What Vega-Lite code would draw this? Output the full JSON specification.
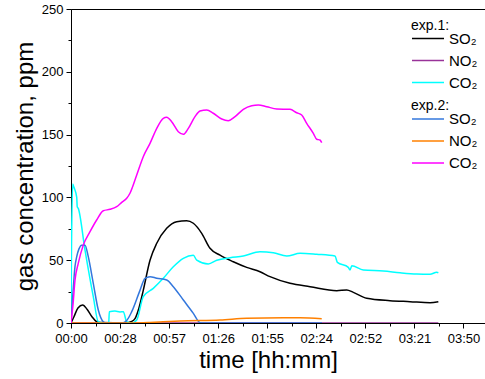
{
  "$schema": "https://vega.github.io/schema/vega-lite/v6.json",
  "width": 416,
  "height": 314,
  "autosize": {"type": "none"},
  "padding": {"left": 71, "top": 9, "right": 0, "bottom": 56},
  "background": "white",
  "config": {
    "font": "Liberation Sans",
    "view": {"stroke": "black", "strokeWidth": 1},
    "axis": {"grid": false, "domainColor": "black", "tickColor": "black", "labelColor": "black", "titleColor": "black", "labelFont": "Liberation Sans", "titleFont": "Liberation Sans", "titleFontWeight": "normal", "labelFontSize": 13, "titleFontSize": 24},
    "legend": {"titleFontSize": 14, "labelFontSize": 15, "titleFontWeight": "normal", "titleColor": "black", "labelColor": "black", "symbolType": "M-1,0H3", "symbolSize": 256, "symbolStrokeWidth": 1.5, "labelOffset": 20, "titlePadding": -3, "rowPadding": 5}
  },
  "datasets": {
    "exp1": [
      {"gas": "SO₂", "t": 0, "v": 0}, {"gas": "SO₂", "t": 0.029, "v": 5}, {"gas": "SO₂", "t": 0.068, "v": 12}, {"gas": "SO₂", "t": 0.114, "v": 14.3}, {"gas": "SO₂", "t": 0.157, "v": 11}, {"gas": "SO₂", "t": 0.205, "v": 5}, {"gas": "SO₂", "t": 0.251, "v": 1}, {"gas": "SO₂", "t": 0.284, "v": 0.3}, {"gas": "SO₂", "t": 0.545, "v": 0}, {"gas": "SO₂", "t": 0.587, "v": 1}, {"gas": "SO₂", "t": 0.626, "v": 3.5}, {"gas": "SO₂", "t": 0.665, "v": 12}, {"gas": "SO₂", "t": 0.707, "v": 26}, {"gas": "SO₂", "t": 0.773, "v": 50}, {"gas": "SO₂", "t": 0.839, "v": 63.5}, {"gas": "SO₂", "t": 0.936, "v": 75.4}, {"gas": "SO₂", "t": 1.034, "v": 80.7}, {"gas": "SO₂", "t": 1.132, "v": 81.5}, {"gas": "SO₂", "t": 1.197, "v": 79.4}, {"gas": "SO₂", "t": 1.279, "v": 71.4}, {"gas": "SO₂", "t": 1.36, "v": 59.5}, {"gas": "SO₂", "t": 1.458, "v": 54}, {"gas": "SO₂", "t": 1.588, "v": 48.8}, {"gas": "SO₂", "t": 1.719, "v": 44.3}, {"gas": "SO₂", "t": 1.849, "v": 40.8}, {"gas": "SO₂", "t": 1.947, "v": 36.9}, {"gas": "SO₂", "t": 2.143, "v": 31.6}, {"gas": "SO₂", "t": 2.339, "v": 28.9}, {"gas": "SO₂", "t": 2.6, "v": 25.7}, {"gas": "SO₂", "t": 2.698, "v": 26.3}, {"gas": "SO₂", "t": 2.762, "v": 24.4}, {"gas": "SO₂", "t": 2.893, "v": 19.7}, {"gas": "SO₂", "t": 3.121, "v": 17.8}, {"gas": "SO₂", "t": 3.317, "v": 17}, {"gas": "SO₂", "t": 3.513, "v": 16.2}, {"gas": "SO₂", "t": 3.594, "v": 17},
      {"gas": "NO₂", "t": 0, "v": 0}, {"gas": "NO₂", "t": 1.8, "v": 0}, {"gas": "NO₂", "t": 3.594, "v": 0},
      {"gas": "CO₂", "t": 0, "v": 0}, {"gas": "CO₂", "t": 0.005, "v": 60}, {"gas": "CO₂", "t": 0.017, "v": 110.7}, {"gas": "CO₂", "t": 0.029, "v": 108}, {"gas": "CO₂", "t": 0.056, "v": 100}, {"gas": "CO₂", "t": 0.061, "v": 92.6}, {"gas": "CO₂", "t": 0.071, "v": 91.3}, {"gas": "CO₂", "t": 0.137, "v": 58}, {"gas": "CO₂", "t": 0.218, "v": 21}, {"gas": "CO₂", "t": 0.267, "v": 1}, {"gas": "CO₂", "t": 0.313, "v": 0}, {"gas": "CO₂", "t": 0.369, "v": 0}, {"gas": "CO₂", "t": 0.375, "v": 9}, {"gas": "CO₂", "t": 0.43, "v": 9.5}, {"gas": "CO₂", "t": 0.479, "v": 8.8}, {"gas": "CO₂", "t": 0.512, "v": 9}, {"gas": "CO₂", "t": 0.545, "v": 1}, {"gas": "CO₂", "t": 0.594, "v": 0}, {"gas": "CO₂", "t": 0.643, "v": 2.4}, {"gas": "CO₂", "t": 0.707, "v": 21}, {"gas": "CO₂", "t": 0.805, "v": 27.6}, {"gas": "CO₂", "t": 0.903, "v": 35.6}, {"gas": "CO₂", "t": 1.001, "v": 44.8}, {"gas": "CO₂", "t": 1.099, "v": 51.5}, {"gas": "CO₂", "t": 1.197, "v": 54}, {"gas": "CO₂", "t": 1.23, "v": 50}, {"gas": "CO₂", "t": 1.343, "v": 47}, {"gas": "CO₂", "t": 1.426, "v": 50}, {"gas": "CO₂", "t": 1.556, "v": 52}, {"gas": "CO₂", "t": 1.686, "v": 53.3}, {"gas": "CO₂", "t": 1.849, "v": 56.8}, {"gas": "CO₂", "t": 1.979, "v": 56}, {"gas": "CO₂", "t": 2.111, "v": 53.3}, {"gas": "CO₂", "t": 2.241, "v": 55.5}, {"gas": "CO₂", "t": 2.404, "v": 54.7}, {"gas": "CO₂", "t": 2.583, "v": 53.3}, {"gas": "CO₂", "t": 2.606, "v": 48.3}, {"gas": "CO₂", "t": 2.713, "v": 44.3}, {"gas": "CO₂", "t": 2.73, "v": 42.2}, {"gas": "CO₂", "t": 2.747, "v": 45.6}, {"gas": "CO₂", "t": 2.86, "v": 42.2}, {"gas": "CO₂", "t": 3.056, "v": 41.4}, {"gas": "CO₂", "t": 3.219, "v": 40}, {"gas": "CO₂", "t": 3.383, "v": 39}, {"gas": "CO₂", "t": 3.513, "v": 38.8}, {"gas": "CO₂", "t": 3.578, "v": 40.4}, {"gas": "CO₂", "t": 3.594, "v": 40}
    ],
    "exp2": [
      {"gas": "SO₂", "t": 0, "v": 0}, {"gas": "SO₂", "t": 0.02, "v": 25}, {"gas": "SO₂", "t": 0.039, "v": 45}, {"gas": "SO₂", "t": 0.056, "v": 52.8}, {"gas": "SO₂", "t": 0.078, "v": 59}, {"gas": "SO₂", "t": 0.105, "v": 62}, {"gas": "SO₂", "t": 0.137, "v": 62}, {"gas": "SO₂", "t": 0.169, "v": 52.8}, {"gas": "SO₂", "t": 0.218, "v": 31.6}, {"gas": "SO₂", "t": 0.267, "v": 10.4}, {"gas": "SO₂", "t": 0.316, "v": 1}, {"gas": "SO₂", "t": 0.342, "v": 0}, {"gas": "SO₂", "t": 0.496, "v": 0}, {"gas": "SO₂", "t": 0.545, "v": 2}, {"gas": "SO₂", "t": 0.594, "v": 9}, {"gas": "SO₂", "t": 0.675, "v": 26}, {"gas": "SO₂", "t": 0.724, "v": 35.6}, {"gas": "SO₂", "t": 0.773, "v": 36.9}, {"gas": "SO₂", "t": 0.839, "v": 35.6}, {"gas": "SO₂", "t": 0.936, "v": 34.2}, {"gas": "SO₂", "t": 1.001, "v": 28.9}, {"gas": "SO₂", "t": 1.099, "v": 18.3}, {"gas": "SO₂", "t": 1.197, "v": 7.7}, {"gas": "SO₂", "t": 1.262, "v": 0.3}, {"gas": "SO₂", "t": 1.3, "v": 0}, {"gas": "SO₂", "t": 2.456, "v": 0},
      {"gas": "NO₂", "t": 0, "v": 0}, {"gas": "NO₂", "t": 0.6, "v": 0}, {"gas": "NO₂", "t": 0.773, "v": 0.4}, {"gas": "NO₂", "t": 0.9, "v": 0.9}, {"gas": "NO₂", "t": 1.066, "v": 1.6}, {"gas": "NO₂", "t": 1.458, "v": 2.4}, {"gas": "NO₂", "t": 1.719, "v": 3.7}, {"gas": "NO₂", "t": 2.077, "v": 4.2}, {"gas": "NO₂", "t": 2.241, "v": 4.2}, {"gas": "NO₂", "t": 2.453, "v": 3.4},
      {"gas": "CO₂", "t": 0, "v": 0}, {"gas": "CO₂", "t": 0.02, "v": 15}, {"gas": "CO₂", "t": 0.039, "v": 34}, {"gas": "CO₂", "t": 0.071, "v": 47.5}, {"gas": "CO₂", "t": 0.12, "v": 62}, {"gas": "CO₂", "t": 0.186, "v": 72.7}, {"gas": "CO₂", "t": 0.251, "v": 82}, {"gas": "CO₂", "t": 0.316, "v": 89.4}, {"gas": "CO₂", "t": 0.382, "v": 90.5}, {"gas": "CO₂", "t": 0.447, "v": 92.6}, {"gas": "CO₂", "t": 0.496, "v": 96}, {"gas": "CO₂", "t": 0.545, "v": 99.3}, {"gas": "CO₂", "t": 0.577, "v": 103.3}, {"gas": "CO₂", "t": 0.643, "v": 117.8}, {"gas": "CO₂", "t": 0.707, "v": 132.4}, {"gas": "CO₂", "t": 0.773, "v": 143}, {"gas": "CO₂", "t": 0.839, "v": 155}, {"gas": "CO₂", "t": 0.903, "v": 163}, {"gas": "CO₂", "t": 0.936, "v": 163.8}, {"gas": "CO₂", "t": 0.985, "v": 160.3}, {"gas": "CO₂", "t": 1.05, "v": 152.3}, {"gas": "CO₂", "t": 1.099, "v": 150.2}, {"gas": "CO₂", "t": 1.148, "v": 155}, {"gas": "CO₂", "t": 1.213, "v": 164.3}, {"gas": "CO₂", "t": 1.262, "v": 168.8}, {"gas": "CO₂", "t": 1.328, "v": 169.6}, {"gas": "CO₂", "t": 1.392, "v": 167}, {"gas": "CO₂", "t": 1.475, "v": 162.4}, {"gas": "CO₂", "t": 1.539, "v": 161.1}, {"gas": "CO₂", "t": 1.605, "v": 164.3}, {"gas": "CO₂", "t": 1.686, "v": 170.1}, {"gas": "CO₂", "t": 1.768, "v": 173}, {"gas": "CO₂", "t": 1.833, "v": 173.6}, {"gas": "CO₂", "t": 1.915, "v": 172.2}, {"gas": "CO₂", "t": 2.013, "v": 170.4}, {"gas": "CO₂", "t": 2.143, "v": 170.1}, {"gas": "CO₂", "t": 2.208, "v": 167.4}, {"gas": "CO₂", "t": 2.257, "v": 165.6}, {"gas": "CO₂", "t": 2.306, "v": 159}, {"gas": "CO₂", "t": 2.371, "v": 151}, {"gas": "CO₂", "t": 2.404, "v": 146.3}, {"gas": "CO₂", "t": 2.436, "v": 145.7}, {"gas": "CO₂", "t": 2.453, "v": 143.6}
    ]
  },
  "encoding": {
    "x": {
      "field": "t", "type": "quantitative",
      "scale": {"domain": [0, 4.07], "nice": false, "zero": false},
      "axis": {
        "title": "time [hh:mm]",
        "values": [0, 0.24, 0.48, 0.72, 0.96, 1.2, 1.44, 1.68, 1.92, 2.16, 2.4, 2.64, 2.88, 3.12, 3.36, 3.6, 3.84],
        "labelExpr": "round(datum.value/0.24) % 2 == 1 ? '' : ((floor(floor(datum.value*60+0.001)/60) < 10 ? '0' : '') + floor(floor(datum.value*60+0.001)/60) + ':' + (floor(datum.value*60+0.001) % 60 < 10 ? '0' : '') + (floor(datum.value*60+0.001) % 60))",
        "tickSize": {"condition": {"test": "round(datum.value/0.24) % 2 == 1", "value": 3}, "value": 5},
        "labelPadding": 4,
        "labelOverlap": false,
        "labelFlush": false,
        "titleX": 197,
        "titleY": 44,
        "titleBaseline": "alphabetic"
      }
    },
    "y": {
      "field": "v", "type": "quantitative",
      "scale": {"domain": [0, 250], "nice": false},
      "axis": {
        "title": "gas concentration, ppm",
        "values": [0, 25, 50, 75, 100, 125, 150, 175, 200, 225, 250],
        "labelExpr": "datum.value % 50 == 0 ? datum.label : ''",
        "tickSize": {"condition": {"test": "datum.value % 50 != 0", "value": 3}, "value": 5},
        "labelPadding": 3,
        "labelOverlap": false,
        "titleX": -39,
        "titleBaseline": "alphabetic"
      }
    }
  },
  "layer": [
    {
      "data": {"name": "exp1"},
      "mark": {"type": "line", "strokeWidth": 1.5, "interpolate": "monotone", "clip": true},
      "encoding": {
        "color": {
          "field": "gas", "type": "nominal",
          "scale": {"domain": ["SO₂", "NO₂", "CO₂"], "range": ["#000000", "#993399", "#00ffff"]},
          "legend": {"title": "exp.1:", "orient": "none", "legendX": 340, "legendY": 9.5}
        }
      }
    },
    {
      "data": {"name": "exp2"},
      "mark": {"type": "line", "strokeWidth": 1.5, "interpolate": "monotone", "clip": true},
      "encoding": {
        "color": {
          "field": "gas", "type": "nominal",
          "scale": {"domain": ["SO₂", "NO₂", "CO₂"], "range": ["#3377dd", "#ff8000", "#ff00ff"]},
          "legend": {"title": "exp.2:", "orient": "none", "legendX": 340, "legendY": 90}
        }
      }
    }
  ],
  "resolve": {"scale": {"color": "independent"}}
}
